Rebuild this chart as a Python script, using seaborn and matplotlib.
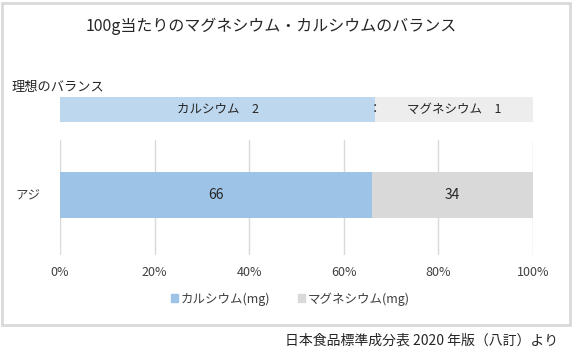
import matplotlib
matplotlib.use('Agg')
import matplotlib.pyplot as plt
import seaborn as sns
import pandas as pd
import numpy as np
from matplotlib.patches import Rectangle, Patch

sns.set_style('white')
plt.rcParams['font.family'] = ['Noto Sans CJK JP', 'DejaVu Sans']

# data
fish = ['アジ']
calcium = [66]
magnesium = [34]
ideal_labels = ['カルシウム', 'マグネシウム']
ideal_ratio = [2, 1]
ticks = [0, 20, 40, 60, 80, 100]

col_ca, col_mg = '#9dc3e6', '#d9d9d9'
col_ca_l, col_mg_l = '#bdd7ee', '#ededed'

total = np.array(calcium) + np.array(magnesium)
df = pd.DataFrame({'fish': fish,
                   'ca_pct': np.array(calcium) / total * 100,
                   'all_pct': total / total * 100})

W, H = 573, 355
fig = plt.figure(figsize=(W / 100, H / 100), dpi=100)

def fy(y):
    return 1 - y / H

# outer frame
fig.patches.append(Rectangle((2 / W, fy(325)), 568 / W, 322 / H, transform=fig.transFigure,
                             fill=False, edgecolor='#d9d9d9', linewidth=2))

fig.text(271 / W, fy(26), '100g当たりのマグネシウム・カルシウムのバランス',
         ha='center', va='center', fontsize=11.5, color='#262626')
fig.text(12 / W, fy(87), '理想のバランス', ha='left', va='center', fontsize=9.5, color='#262626')

# ideal balance bar
ax0 = fig.add_axes([60 / W, fy(122), 473 / W, 25 / H])
ideal_df = pd.DataFrame({'k': ['理想'], 'all': [100.0],
                         'ca': [ideal_ratio[0] / sum(ideal_ratio) * 100]})
sns.barplot(data=ideal_df, x='all', y='k', color=col_mg_l, orient='h', width=1.0,
            saturation=1, linewidth=0, ax=ax0)
sns.barplot(data=ideal_df, x='ca', y='k', color=col_ca_l, orient='h', width=1.0,
            saturation=1, linewidth=0, ax=ax0)
ax0.set_xlim(0, 100)
ax0.set_ylim(0.5, -0.5)
ax0.axis('off')
ca_end = ideal_df['ca'][0]
ax0.text(ca_end / 2, 0, f'{ideal_labels[0]}　{ideal_ratio[0]}', ha='center', va='center',
         fontsize=9, color='#262626')
ax0.text(ca_end + (100 - ca_end) / 2, 0, f'{ideal_labels[1]}　{ideal_ratio[1]}', ha='center',
         va='center', fontsize=9, color='#262626')
ax0.text(ca_end, 0, '：', ha='center', va='center', fontsize=9, color='#262626')

# main stacked bar
ax = fig.add_axes([60 / W, fy(255), 473 / W, 115 / H])
sns.barplot(data=df, x='all_pct', y='fish', color=col_mg, orient='h', width=0.8,
            saturation=1, linewidth=0, ax=ax)
sns.barplot(data=df, x='ca_pct', y='fish', color=col_ca, orient='h', width=0.8,
            saturation=1, linewidth=0, ax=ax)
ax.set_xlim(0, 100)
ax.set_ylim(1.043, -0.957)
ax.set_xticks(ticks)
ax.set_xticklabels([f'{t}%' for t in ticks], fontsize=9, color='#404040')
ax.tick_params(axis='x', length=0, pad=8)
ax.tick_params(axis='y', length=0, pad=14, labelsize=9, labelcolor='#404040')
ax.set_xlabel('')
ax.set_ylabel('')
ax.grid(axis='x', color='#d9d9d9', linewidth=1)
ax.set_axisbelow(True)
for s in ax.spines.values():
    s.set_visible(False)
for i, row in df.iterrows():
    ax.text(row['ca_pct'] / 2, i, f'{calcium[i]}', ha='center', va='center',
            fontsize=10, color='#262626')
    ax.text(row['ca_pct'] + (100 - row['ca_pct']) / 2, i, f'{magnesium[i]}', ha='center',
            va='center', fontsize=10, color='#262626')

handles = [Patch(color=col_ca, label='カルシウム(mg)'), Patch(color=col_mg, label='マグネシウム(mg)')]
fig.legend(handles=handles, loc='center', bbox_to_anchor=(290 / W, fy(299)), ncol=2,
           frameon=False, fontsize=9, handlelength=0.6, handleheight=0.6,
           handletextpad=0.2, columnspacing=2.2, labelcolor='#404040')

fig.text(558 / W, fy(341), '日本食品標準成分表 2020 年版（八訂）より', ha='right', va='center',
         fontsize=10, color='#262626')

fig.savefig('out.png', dpi=100)
